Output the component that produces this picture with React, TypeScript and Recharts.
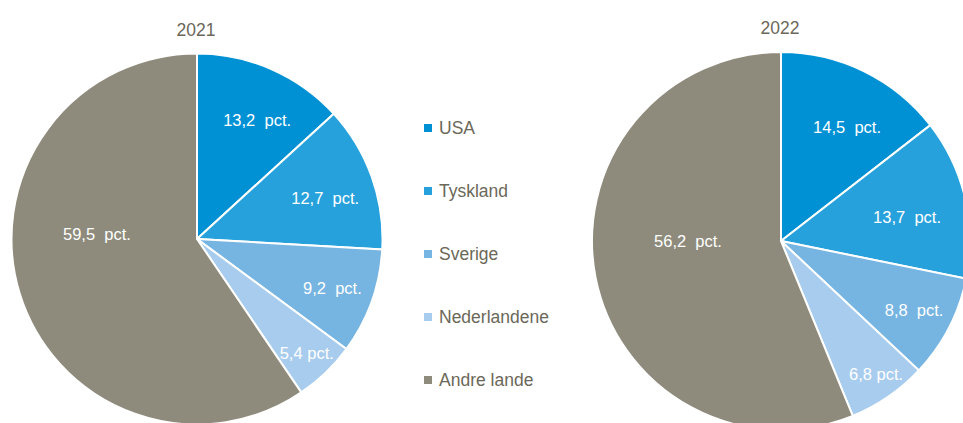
import React from "react";
import { PieChart, Pie, Cell } from "recharts";

const categories = ["USA", "Tyskland", "Sverige", "Nederlandene", "Andre lande"];
const values2021 = [13.2, 12.7, 9.2, 5.4, 59.5];
const values2022 = [14.5, 13.7, 8.8, 6.8, 56.2];
const labels2021 = ["13,2  pct.", "12,7  pct.", "9,2  pct.", "5,4 pct.", "59,5  pct."];
const labels2022 = ["14,5  pct.", "13,7  pct.", "8,8  pct.", "6,8 pct.", "56,2  pct."];
const years = ["2021", "2022"];

const COLORS = ["#0091D5", "#27A1DC", "#76B4E1", "#A8CCEE", "#8E8B7C"];
const TEXT = "#6b6859";
const labelStyle2021 = { ratio: [0.72, 0.726, 0.776, 0.853, 0.54], angleAdj: [-3, -1.8, 0, 0, -20] };
const labelStyle2022 = { ratio: [0.697, 0.679, 0.793, 0.865, 0.492], angleAdj: [-4, -2.3, 0, 1, -11] };

const data2021 = categories.map((name, i) => ({ name, value: values2021[i], label: labels2021[i] }));
const data2022 = categories.map((name, i) => ({ name, value: values2022[i], label: labels2022[i] }));

const RAD = Math.PI / 180;
const makeLabel = (st: { ratio: number[]; angleAdj: number[] }) => (props: any) => {
  const { cx, cy, midAngle, outerRadius, index, payload } = props;
  const r = outerRadius * st.ratio[index];
  const a = midAngle + st.angleAdj[index];
  const x = cx + r * Math.cos(-a * RAD);
  const y = cy + r * Math.sin(-a * RAD);
  return (
    <text
      x={x}
      y={y}
      fill="#ffffff"
      fontSize={16.5}
      fontFamily="'Liberation Sans', Arial, sans-serif"
      textAnchor="middle"
      dominantBaseline="central"
      style={{ whiteSpace: "pre" }}
    >
      {payload.label}
    </text>
  );
};

export default function App() {
  return (
    <div style={{ position: "absolute", left: 0, top: 0, width: 963, height: 423, background: "#fff", overflow: "hidden", fontFamily: "'Liberation Sans', Arial, sans-serif" }}>
      <PieChart width={963} height={423} margin={{ top: 0, right: 0, bottom: 0, left: 0 }} style={{ position: "absolute", left: 0, top: 0 }}>
        <Pie
          data={data2021}
          dataKey="value"
          nameKey="name"
          cx={197}
          cy={239}
          outerRadius={185.5}
          startAngle={90}
          endAngle={-270}
          stroke="#ffffff"
          strokeWidth={2}
          isAnimationActive={false}
          labelLine={false}
          label={makeLabel(labelStyle2021)}
        >
          {data2021.map((d, i) => (
            <Cell key={d.name} fill={COLORS[i]} />
          ))}
        </Pie>
        <Pie
          data={data2022}
          dataKey="value"
          nameKey="name"
          cx={781}
          cy={241}
          outerRadius={189}
          startAngle={90}
          endAngle={-270}
          stroke="#ffffff"
          strokeWidth={2}
          isAnimationActive={false}
          labelLine={false}
          label={makeLabel(labelStyle2022)}
        >
          {data2022.map((d, i) => (
            <Cell key={d.name} fill={COLORS[i]} />
          ))}
        </Pie>
      </PieChart>
      {years.map((y, i) => (
        <div
          key={y}
          style={{
            position: "absolute",
            left: i === 0 ? 146 : 730,
            width: 100,
            top: i === 0 ? 20 : 18,
            textAlign: "center",
            fontSize: 17.5,
            color: TEXT,
            lineHeight: "20px",
          }}
        >
          {y}
        </div>
      ))}
      {categories.map((c, i) => (
        <div
          key={c}
          style={{
            position: "absolute",
            left: 424,
            top: 118 + i * 63,
            height: 20,
            display: "flex",
            alignItems: "center",
            fontSize: 17.5,
            color: TEXT,
            whiteSpace: "nowrap",
          }}
        >
          <span style={{ display: "inline-block", width: 8, height: 8, background: COLORS[i], marginRight: 7 }} />
          {c}
        </div>
      ))}
    </div>
  );
}
